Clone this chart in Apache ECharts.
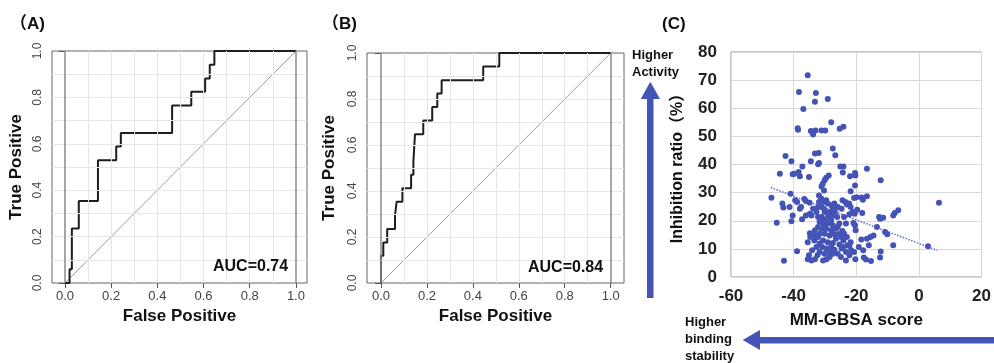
<!DOCTYPE html>
<html>
<head>
<meta charset="utf-8">
<script src="https://cdn.jsdelivr.net/npm/echarts@6/dist/echarts.min.js"></script>
<style>
html, body { margin: 0; padding: 0; background: #fff; }
#main { width: 994px; height: 363px; }
</style>
</head>
<body>
<div id="main"></div>
<script>
// ROC curve (A): corner points, drawn as a step line
var fprA = [0, 0.02, 0.03, 0.06, 0.143, 0.222, 0.242, 0.464, 0.547, 0.607, 0.627, 0.647, 1];
var tprA = [0, 0.059, 0.235, 0.353, 0.529, 0.588, 0.647, 0.765, 0.824, 0.882, 0.941, 1, 1];

// ROC curve (B)
var fprB = [0, 0, 0.01, 0.027, 0.061, 0.068, 0.093, 0.131, 0.141, 0.148, 0.184, 0.223, 0.245, 0.264, 0.445, 0.515, 1];
var tprB = [0, 0.118, 0.176, 0.235, 0.294, 0.353, 0.412, 0.471, 0.529, 0.647, 0.706, 0.765, 0.824, 0.882, 0.941, 1, 1];

var rocTicks = [0, 0.2, 0.4, 0.6, 0.8, 1.0];
var rocGrid = [0.1, 0.2, 0.3, 0.4, 0.5, 0.6, 0.7, 0.8, 0.9];

// scatter (C)
var mmgbsa = [-35.5, -38.3, -32.9, -33.2, -29.1, -36.9, -38.7, -38.6, -34.5, -33.8, -33.0, -31.1, -29.9, -28.0, -25.3, -24.1,
  -27.5, -26.7, -33.2, -32.0, -42.6, -40.7, -34.5, -32.2, -31.9, -37.2, -39.8, -40.3, -38.4, -38.0, -44.4, -35.1,
  -25.1, -24.1, -24.3, -16.6, -22.0, -20.4, -20.3, -28.8, -29.6, -30.1, -12.2, -20.4, -21.8, -30.7, -31.1, -30.3,
  -47.1, -41.0, -43.6, -43.3, -41.3, -39.5, -38.9, -37.6, -38.0, -36.6, -36.1, -34.9, -40.3, -40.7, -45.4, -37.3,
  -38.9, -43.1, -20.7, -19.9, -18.3, -17.9, -16.6, -18.1, -12.7, -11.4, -12.4, -8.2, -7.7, -6.6, 6.4, -13.4,
  -10.8, -10.1, -8.2, 2.9, -15.5, -14.5, -16.6, -18.4, -16.0, -12.2, -12.4, -15.3, -16.9, -17.6, -17.8, -19.2,
  -20.3, -23.3, -20.7, -21.6, -22.2, -20.2, -20.4, -20.9, -19.7, -20.5, -22.2, -21.2, -23.9, -23.3, -24.4, -24.9,
  -25.4, -24.1, -27.0, -27.5, -28.5, -29.5, -30.6, -33.2, -34.3, -35.5, -35.1, -34.1, -35.5, -34.8, -34.7, -33.4,
  -32.2, -31.7, -31.1, -30.3, -31.7, -32.2, -34.3, -34.8, -32.7, -33.8, -32.2, -31.9, -31.2, -31.9, -30.3, -29.6,
  -29.1, -28.0, -27.0, -27.5, -25.9, -26.8, -26.1, -24.4, -23.5, -23.0, -22.3, -21.8, -24.7, -30.1, -29.1, -28.0,
  -30.6, -29.1, -27.5, -29.6, -28.0, -26.5, -30.1, -28.5, -27.0, -30.6, -29.1, -27.5, -30.9, -29.6, -28.0, -31.7,
  -30.1, -28.5, -25.9, -25.4, -23.9, -23.0, -21.8, -22.8, -25.9, -24.9, -31.1, -30.3, -28.5, -27.5, -31.1, -30.0,
  -32.2, -33.2, -33.2, -31.7, -32.7, -32.4, -26.5, -25.4, -24.1, -23.3, -24.7, -22.2, -36.1];
var inhibition = [71.7, 65.8, 65.4, 62.3, 63.3, 59.7, 52.9, 52.4, 51.9, 50.7, 52.1, 52.1, 52.1, 55.0, 52.7, 53.4,
  45.7, 43.3, 43.9, 44.1, 43.0, 41.2, 41.2, 40.1, 40.5, 39.3, 36.7, 36.5, 37.3, 35.8, 36.7, 35.6,
  39.3, 39.3, 37.2, 38.5, 35.8, 37.0, 36.1, 36.1, 35.3, 34.4, 34.4, 32.5, 30.5, 33.2, 32.2, 30.8,
  28.2, 29.6, 26.1, 24.7, 24.9, 27.3, 26.7, 24.9, 24.3, 27.7, 27.0, 26.4, 21.9, 19.8, 19.3, 20.5,
  9.2, 5.8, 28.1, 28.4, 28.3, 27.5, 28.7, 22.8, 21.3, 21.1, 20.7, 21.9, 22.8, 23.7, 26.4, 17.8,
  16.0, 15.2, 11.3, 10.9, 14.2, 14.8, 13.6, 13.3, 11.3, 9.1, 6.9, 5.7, 6.2, 6.9, 9.5, 10.7,
  6.3, 5.9, 8.9, 9.5, 11.0, 16.6, 18.4, 19.2, 23.9, 22.5, 22.3, 23.1, 21.3, 19.0, 16.4, 14.2,
  11.6, 10.7, 9.7, 8.3, 7.1, 6.3, 5.9, 6.3, 5.9, 6.3, 7.7, 9.5, 12.4, 15.6, 14.2, 13.0,
  14.2, 15.4, 17.2, 18.4, 19.6, 21.3, 21.9, 22.5, 23.1, 24.3, 24.9, 26.7, 27.9, 29.0, 26.7, 27.3,
  26.1, 25.5, 26.1, 24.3, 24.9, 23.1, 21.3, 27.3, 26.7, 25.8, 26.1, 24.9, 24.3, 23.1, 21.3, 20.1,
  19.6, 19.0, 18.4, 17.2, 16.6, 17.2, 15.4, 14.8, 15.2, 13.0, 12.4, 12.1, 10.7, 10.1, 10.7, 8.9,
  8.3, 8.9, 17.8, 19.0, 15.4, 14.2, 12.4, 11.3, 8.3, 7.1, 24.9, 24.3, 23.1, 21.9, 21.3, 20.4,
  17.8, 16.6, 14.8, 11.9, 10.7, 7.7, 13.6, 15.4, 13.0, 8.9, 10.1, 7.7, 21.9];

// dotted trend line end points
var trendX = [-47.3, 5.8];
var trendY = [31.8, 9.5];

var FONT = '"Liberation Sans", Arial, "Noto Sans CJK JP", sans-serif';
var BLUE = '#4453b6';

function pairs(xs, ys) {
  return xs.map(function (x, i) { return [x, ys[i]]; });
}

function rocGridLines() {
  var d = [];
  rocGrid.forEach(function (v) { d.push({xAxis: v}); d.push({yAxis: v}); });
  d.push({xAxis: 0, lineStyle: {color: '#8a8a8a', width: 1.5, type: 'solid'}});
  d.push({xAxis: 1, lineStyle: {color: '#8a8a8a', width: 1.5, type: 'solid'}});
  return d;
}

function rocX(idx, min, max) {
  return {
    gridIndex: idx, type: 'value', min: min, max: max,
    axisLine: {show: false},
    axisTick: {show: true, length: 5, customValues: rocTicks, lineStyle: {color: '#555'}},
    axisLabel: {customValues: rocTicks, fontSize: 13, color: '#444', margin: 7, fontFamily: FONT,
      formatter: function (v) { return v.toFixed(1); }},
    splitLine: {show: false},
    name: 'False Positive', nameLocation: 'middle', nameGap: 22,
    nameTextStyle: {fontSize: 17, fontWeight: 'bold', color: '#111', fontFamily: FONT}
  };
}

function rocY(idx, gap) {
  return {
    gridIndex: idx, type: 'value', min: 0, max: 1, interval: 0.2,
    axisLine: {show: false},
    axisTick: {show: true, length: 6, lineStyle: {color: '#555'}},
    axisLabel: {rotate: 90, fontSize: 12, color: '#444', margin: 8, fontFamily: FONT,
      formatter: function (v) { return v.toFixed(1); }},
    splitLine: {show: false},
    name: 'True Positive', nameLocation: 'middle', nameGap: gap,
    nameTextStyle: {fontSize: 17, fontWeight: 'bold', color: '#111', fontFamily: FONT}
  };
}

function rocSeries(idx, xs, ys) {
  return [{
    type: 'line', xAxisIndex: idx, yAxisIndex: idx, data: [[0, 0], [1, 1]],
    symbol: 'none', lineStyle: {color: '#9a9a9a', width: 1}, z: 1, silent: true,
    markLine: {silent: true, symbol: 'none', label: {show: false},
      lineStyle: {color: '#e6e6e6', width: 1, type: 'solid'}, data: rocGridLines()}
  }, {
    type: 'line', xAxisIndex: idx, yAxisIndex: idx, data: pairs(xs, ys), step: 'end',
    symbol: 'none', lineStyle: {color: '#1e1e1e', width: 2}, z: 3
  }];
}

function txt(x, y, s, size) {
  return {type: 'text', x: x, y: y, z: 100, silent: true,
    style: {text: s, font: 'bold ' + size + 'px ' + FONT, fill: '#111', align: 'left', verticalAlign: 'middle'}};
}

var chart = echarts.init(document.getElementById('main'));
var option = {
  animation: false,
  backgroundColor: '#fff',
  textStyle: {fontFamily: FONT},
  grid: [
    {left: 52, top: 51, width: 255, height: 232, show: true, borderColor: '#666', borderWidth: 1},
    {left: 367, top: 53, width: 257, height: 230, show: true, borderColor: '#666', borderWidth: 1},
    {left: 731, top: 52, width: 256, height: 225, show: true, borderColor: '#8c8c8c', borderWidth: 1}
  ],
  xAxis: [
    rocX(0, -0.056, 1.048),
    rocX(1, -0.061, 1.058),
    {
      gridIndex: 2, type: 'value', min: -60, max: 20, interval: 20,
      axisLine: {show: false}, axisTick: {show: false},
      axisLabel: {fontSize: 17, fontWeight: 'bold', color: '#222', margin: 11, fontFamily: FONT},
      splitLine: {show: true, lineStyle: {color: '#d9d9d9', width: 1}},
      name: 'MM-GBSA score', nameLocation: 'middle', nameGap: 35,
      nameTextStyle: {fontSize: 17, fontWeight: 'bold', color: '#111', fontFamily: FONT}
    }
  ],
  yAxis: [
    rocY(0, 27),
    rocY(1, 29),
    {
      gridIndex: 2, type: 'value', min: 0, max: 80, interval: 10,
      axisLine: {show: false}, axisTick: {show: false},
      axisLabel: {fontSize: 17, fontWeight: 'bold', color: '#222', margin: 14, fontFamily: FONT},
      splitLine: {show: true, lineStyle: {color: '#d9d9d9', width: 1}},
      name: 'Inhibition ratio（%）', nameLocation: 'middle', nameGap: 45,
      nameTextStyle: {fontSize: 16, fontWeight: 'bold', color: '#111', fontFamily: FONT}
    }
  ],
  series: rocSeries(0, fprA, tprA).concat(rocSeries(1, fprB, tprB)).concat([
    {
      type: 'line', xAxisIndex: 2, yAxisIndex: 2, data: pairs(trendX, trendY),
      symbol: 'none', lineStyle: {color: '#5a6ac8', width: 1.5, type: 'dotted'}, z: 1
    },
    {
      type: 'scatter', xAxisIndex: 2, yAxisIndex: 2, data: pairs(mmgbsa, inhibition),
      symbol: 'circle', symbolSize: 6, itemStyle: {color: BLUE, opacity: 1}, z: 2
    }
  ]),
  graphic: [
    txt(10, 24, '（A)', 17),
    txt(322, 24, '（B)', 17),
    txt(662, 24, '(C)', 17),
    txt(213, 267, 'AUC=0.74', 16),
    txt(528, 268, 'AUC=0.84', 16),
    txt(632, 55, 'Higher', 13),
    txt(632, 72, 'Activity', 13),
    txt(685, 322, 'Higher', 13),
    txt(685, 339, 'binding', 13),
    txt(685, 356, 'stability', 13),
    {
      type: 'polygon', silent: true, z: 100,
      shape: {points: [[647, 298], [653.5, 298], [653.5, 99], [660, 99], [650.3, 81.7], [640.7, 99], [647, 99]]},
      style: {fill: BLUE}
    },
    {
      type: 'polygon', silent: true, z: 100,
      shape: {points: [[994, 337], [760, 337], [760, 330], [742.7, 340], [760, 350], [760, 343.5], [994, 343.5]]},
      style: {fill: BLUE}
    }
  ]
};
chart.setOption(option);
</script>
</body>
</html>
